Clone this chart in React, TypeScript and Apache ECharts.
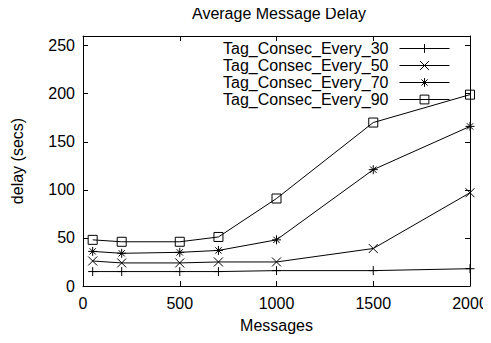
import React, { useEffect, useRef } from "react";
import * as echarts from "echarts";

const messages = [50, 200, 500, 700, 1000, 1500, 2000];
const every30 = [15, 15, 15, 15, 16, 16, 18];
const every50 = [26, 24, 24, 25, 25, 39, 97];
const every70 = [36, 34, 35, 37, 48, 121, 166];
const every90 = [48, 46, 46, 51, 91, 170, 199];
const seriesNames = [
  "Tag_Consec_Every_30",
  "Tag_Consec_Every_50",
  "Tag_Consec_Every_70",
  "Tag_Consec_Every_90",
];
const xTicks = [0, 500, 1000, 1500, 2000];
const yTicks = [0, 50, 100, 150, 200, 250];

const PLUS = "path://M0,5L10,5M5,0L5,10";
const CROSS = "path://M0,0L10,10M10,0L0,10";
const STAR = "path://M0,5L10,5M5,0L5,10M1.5,1.5L8.5,8.5M8.5,1.5L1.5,8.5";
const SQUARE = "path://M0,0L10,0L10,10L0,10Z";

const FONT = "Liberation Sans, Arial, Helvetica, sans-serif";

export default function App() {
  const ref = useRef<HTMLDivElement>(null);
  useEffect(() => {
    if (!ref.current) return;
    const chart = echarts.init(ref.current, undefined, { renderer: "svg" });
    const mk = (name: string, vals: number[], symbol: string, size: number) => ({
      name,
      type: "line",
      data: messages.map((m, i) => [m, vals[i]]),
      symbol,
      symbolSize: size,
      showAllSymbol: true,
      lineStyle: { color: "#000", width: 1 },
      itemStyle: { color: "rgba(0,0,0,0)", borderColor: "#000", borderWidth: 1 },
      emphasis: { disabled: true },
    });
    const axisCommon = {
      axisLine: { show: true, onZero: false, lineStyle: { color: "#000", width: 1 } },
      axisTick: { show: true, inside: true, length: 5, lineStyle: { color: "#000" } },
      splitLine: { show: false },
    };
    chart.setOption({
      animation: false,
      backgroundColor: "#fff",
      title: {
        text: "Average Message Delay",
        left: 192,
        top: 5,
        padding: 0,
        textStyle: { fontFamily: FONT, fontSize: 16, fontWeight: "normal", color: "#000" },
      },
      legend: {
        data: seriesNames,
        orient: "vertical",
        align: "right",
        right: 41,
        top: 40,
        padding: 0,
        itemWidth: 50,
        itemHeight: 11,
        itemGap: 0,
        selectedMode: false,
        lineStyle: { color: "#000", width: 1 },
        itemStyle: { color: "rgba(0,0,0,0)", borderColor: "#000", borderWidth: 1 },
        textStyle: {
          fontFamily: FONT,
          fontSize: 16,
          color: "#000",
          lineHeight: 17,
          padding: [0, 6, 0, 0],
        },
      },
      grid: { left: 83, right: 21, top: 36, bottom: 57, containLabel: false },
      xAxis: [
        {
          type: "value",
          min: 0,
          max: 2000,
          interval: 500,
          name: "Messages",
          nameLocation: "middle",
          nameGap: 31,
          nameTextStyle: { fontFamily: FONT, fontSize: 16, color: "#000" },
          axisLabel: {
            fontFamily: FONT,
            fontSize: 16,
            color: "#000",
            margin: 9,
            formatter: (v: number) => (xTicks.includes(v) ? String(v) : ""),
          },
          ...axisCommon,
        },
        {
          type: "value",
          position: "top",
          min: 0,
          max: 2000,
          interval: 500,
          axisLabel: { show: false },
          ...axisCommon,
        },
      ],
      yAxis: [
        {
          type: "value",
          min: 0,
          max: 260,
          interval: 50,
          name: "delay (secs)",
          nameLocation: "middle",
          nameGap: 58,
          nameTextStyle: { fontFamily: FONT, fontSize: 16, color: "#000" },
          axisLabel: {
            fontFamily: FONT,
            fontSize: 16,
            color: "#000",
            margin: 8,
            formatter: (v: number) => (yTicks.includes(v) ? String(v) : ""),
          },
          ...axisCommon,
        },
        {
          type: "value",
          position: "right",
          min: 0,
          max: 260,
          interval: 50,
          axisLabel: { show: false },
          ...axisCommon,
        },
      ],
      series: [
        mk(seriesNames[0], every30, PLUS, 9),
        mk(seriesNames[1], every50, CROSS, 9),
        mk(seriesNames[2], every70, STAR, 9),
        mk(seriesNames[3], every90, SQUARE, 9),
      ],
    });
    return () => chart.dispose();
  }, []);
  return <div ref={ref} style={{ width: 491, height: 343, margin: -8 }} />;
}
